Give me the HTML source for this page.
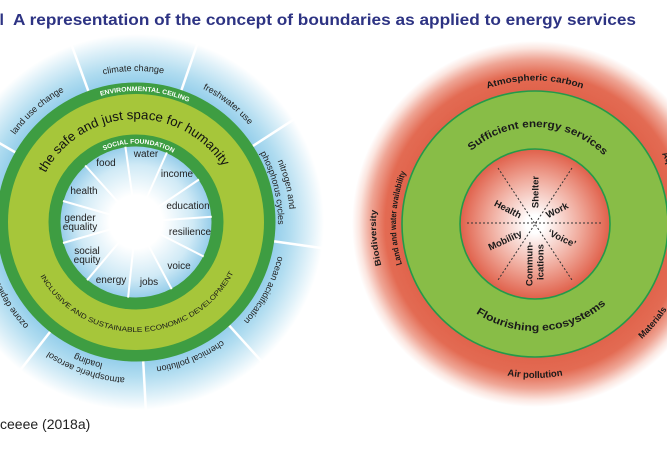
<!DOCTYPE html>
<html>
<head>
<meta charset="utf-8">
<style>
html,body{margin:0;padding:0;background:#fff;}
svg{display:block;}
text{font-family:"Liberation Sans",Arial,sans-serif;}
</style>
</head>
<body>
<svg xmlns="http://www.w3.org/2000/svg" xmlns:xlink="http://www.w3.org/1999/xlink" width="667" height="454" viewBox="0 0 667 454">
<defs>
  <radialGradient id="blueHalo" gradientUnits="userSpaceOnUse" cx="136" cy="222" r="188">
    <stop offset="0.73" stop-color="#92cdea"/>
    <stop offset="0.82" stop-color="#b0dcf0"/>
    <stop offset="0.92" stop-color="#dbeff8"/>
    <stop offset="1" stop-color="#ffffff"/>
  </radialGradient>
  <radialGradient id="blueInner" gradientUnits="userSpaceOnUse" cx="136" cy="222" r="76">
    <stop offset="0" stop-color="#ffffff"/>
    <stop offset="0.35" stop-color="#ffffff"/>
    <stop offset="0.75" stop-color="#d0eaf6"/>
    <stop offset="1" stop-color="#96cdea"/>
  </radialGradient>
  <radialGradient id="redHalo" gradientUnits="userSpaceOnUse" cx="535" cy="224" r="183">
    <stop offset="0.72" stop-color="#e0634b"/>
    <stop offset="0.82" stop-color="#e36b53"/>
    <stop offset="0.90" stop-color="#efa595"/>
    <stop offset="0.96" stop-color="#fbe5df"/>
    <stop offset="1" stop-color="#ffffff"/>
  </radialGradient>
  <radialGradient id="redInner" gradientUnits="userSpaceOnUse" cx="535" cy="224" r="75">
    <stop offset="0" stop-color="#ffffff"/>
    <stop offset="0.12" stop-color="#ffffff"/>
    <stop offset="0.6" stop-color="#f0ab9d"/>
    <stop offset="1" stop-color="#e0604a"/>
  </radialGradient>

  <path id="L151" d="M136,373 A151,151 0 1 1 136,71 A151,151 0 1 1 136,373"/>
  <path id="L149" d="M136,371 A149,149 0 1 1 136,73 A149,149 0 1 1 136,371"/>
  <path id="L154" d="M136,376 A154,154 0 1 1 136,68 A154,154 0 1 1 136,376"/>
  <path id="L142" d="M136,364 A142,142 0 1 1 136,80 A142,142 0 1 1 136,364"/>
  <path id="L146" d="M136,368 A146,146 0 1 1 136,76 A146,146 0 1 1 136,368"/>
  <path id="L156" d="M136,378 A156,156 0 1 1 136,66 A156,156 0 1 1 136,378"/>
  <path id="L145" d="M136,367 A145,145 0 1 1 136,77 A145,145 0 1 1 136,367"/>
  <path id="L103" d="M136,325 A103,103 0 1 1 136,119 A103,103 0 1 1 136,325"/>
  <path id="L131" d="M136,353 A131,131 0 1 1 136,91 A131,131 0 1 1 136,353"/>
  <path id="L78" d="M136,300.5 A78.5,78.5 0 1 1 136,143.5 A78.5,78.5 0 1 1 136,300.5"/>
  <path id="LC110" d="M136,112 A110,110 0 1 0 136,332 A110,110 0 1 0 136,112"/>

  <path id="R97" d="M535,321 A97,97 0 1 1 535,127 A97,97 0 1 1 535,321"/>
  <path id="R143" d="M535,367.5 A143.5,143.5 0 1 1 535,80.5 A143.5,143.5 0 1 1 535,367.5"/>
  <path id="R139" d="M535,363 A139,139 0 1 1 535,85 A139,139 0 1 1 535,363"/>
  <path id="R159" d="M535,383 A159,159 0 1 1 535,65 A159,159 0 1 1 535,383"/>
  <path id="R145" d="M535,369 A145,145 0 1 1 535,79 A145,145 0 1 1 535,369"/>
  <path id="RC107" d="M535,117 A107,107 0 1 0 535,331 A107,107 0 1 0 535,117"/>
  <path id="RC154" d="M535,70 A154,154 0 1 0 535,378 A154,154 0 1 0 535,70"/>
  <path id="RC157" d="M535,67 A157,157 0 1 0 535,381 A157,157 0 1 0 535,67"/>
</defs>

<rect x="0" y="0" width="667" height="454" fill="#ffffff"/>

<!-- LEFT DOUGHNUT -->
<circle cx="136" cy="222" r="188" fill="url(#blueHalo)"/>
<g stroke="#ffffff" stroke-width="2.5" stroke-linecap="butt">
  <line x1="15.6" y1="152.5" x2="-32.9" y2="124.5"/>
  <line x1="88.5" y1="91.4" x2="69.3" y2="38.8"/>
  <line x1="181.3" y1="90.5" x2="199.5" y2="37.6"/>
  <line x1="252.6" y1="146.2" x2="299.6" y2="115.7"/>
  <line x1="273.6" y1="241.3" x2="329.1" y2="249.1"/>
  <line x1="229.0" y1="325.3" x2="266.5" y2="366.9"/>
  <line x1="143.2" y1="360.9" x2="146.2" y2="416.8"/>
  <line x1="50.4" y1="331.5" x2="15.9" y2="375.7"/>
  <line x1="0.0" y1="250.9" x2="-54.7" y2="262.6"/>
</g>
<circle cx="136" cy="222" r="139.5" fill="#3e9d42"/>
<circle cx="136" cy="222" r="128" fill="#a6c63a"/>
<circle cx="136" cy="222" r="87.5" fill="#3e9d42"/>
<circle cx="136" cy="222" r="75.5" fill="url(#blueInner)"/>
<g stroke="#ffffff" stroke-width="2">
  <line x1="136" y1="222" x2="125.4" y2="146.7"/>
  <line x1="136" y1="222" x2="166.9" y2="152.5"/>
  <line x1="136" y1="222" x2="199.0" y2="179.5"/>
  <line x1="136" y1="222" x2="211.8" y2="216.7"/>
  <line x1="136" y1="222" x2="203.7" y2="256.5"/>
  <line x1="136" y1="222" x2="171.7" y2="289.1"/>
  <line x1="136" y1="222" x2="128.1" y2="297.6"/>
  <line x1="136" y1="222" x2="87.1" y2="280.2"/>
  <line x1="136" y1="222" x2="63.0" y2="243.0"/>
  <line x1="136" y1="222" x2="63.0" y2="201.0"/>
  <line x1="136" y1="222" x2="85.2" y2="165.5"/>
</g>

<g font-size="10" fill="#222" text-anchor="middle">
  <text x="146" y="157">water</text>
  <text x="106" y="166">food</text>
  <text x="177" y="177">income</text>
  <text x="84" y="194">health</text>
  <text x="188" y="209">education</text>
  <text x="80" y="221">gender</text>
  <text x="80" y="230">equality</text>
  <text x="190" y="235">resilience</text>
  <text x="87" y="254">social</text>
  <text x="87" y="263">equity</text>
  <text x="179" y="269">voice</text>
  <text x="111" y="283">energy</text>
  <text x="149" y="285">jobs</text>
</g>

<text font-size="6.5" font-weight="bold" fill="#ffffff" transform="rotate(4 136 222)"><textPath href="#L131" xlink:href="#L131" startOffset="50%" text-anchor="middle" textLength="90" lengthAdjust="spacingAndGlyphs">ENVIRONMENTAL CEILING</textPath></text>
<text font-size="6.5" font-weight="bold" fill="#ffffff" transform="rotate(2 136 222)"><textPath href="#L78" xlink:href="#L78" startOffset="50%" text-anchor="middle" textLength="72" lengthAdjust="spacingAndGlyphs">SOCIAL FOUNDATION</textPath></text>
<text font-size="13" fill="#111" transform="rotate(-2 136 222)"><textPath href="#L103" xlink:href="#L103" startOffset="50%" text-anchor="middle" textLength="214" lengthAdjust="spacingAndGlyphs">the safe and just space for humanity</textPath></text>
<text font-size="7" fill="#1a1a1a" transform="rotate(-1 136 222)"><textPath href="#LC110" xlink:href="#LC110" startOffset="50%" text-anchor="middle" textLength="236" lengthAdjust="spacingAndGlyphs">INCLUSIVE AND SUSTAINABLE ECONOMIC DEVELOPMENT</textPath></text>

<g font-size="9" fill="#222">
  <text transform="rotate(-1 136 222)"><textPath href="#L151" xlink:href="#L151" startOffset="50%" text-anchor="middle">climate change</textPath></text>
  <text transform="rotate(38 136 222)"><textPath href="#L149" xlink:href="#L149" startOffset="50%" text-anchor="middle">freshwater use</textPath></text>
  <text transform="rotate(-41.5 136 222)"><textPath href="#L149" xlink:href="#L149" startOffset="50%" text-anchor="middle">land use change</textPath></text>
  <text transform="rotate(76 136 222)"><textPath href="#L154" xlink:href="#L154" startOffset="50%" text-anchor="middle">nitrogen and</textPath></text>
  <text transform="rotate(76 136 222)"><textPath href="#L142" xlink:href="#L142" startOffset="50%" text-anchor="middle">phosphorus cycles</textPath></text>
  <text transform="rotate(118 136 222)"><textPath href="#L146" xlink:href="#L146" startOffset="50%" text-anchor="middle">ocean acidification</textPath></text>
  <text transform="rotate(158 136 222)"><textPath href="#L146" xlink:href="#L146" startOffset="50%" text-anchor="middle">chemical pollution</textPath></text>
  <text transform="rotate(199 136 222)"><textPath href="#L156" xlink:href="#L156" startOffset="50%" text-anchor="middle">atmospheric aerosol</textPath></text>
  <text transform="rotate(199 136 222)"><textPath href="#L145" xlink:href="#L145" startOffset="50%" text-anchor="middle">loading</textPath></text>
  <text transform="rotate(226 136 222)"><textPath href="#L149" xlink:href="#L149" startOffset="50%" text-anchor="start">ozone depletion</textPath></text>
</g>

<!-- RIGHT DOUGHNUT -->
<circle cx="535" cy="224" r="183" fill="url(#redHalo)"/>
<circle cx="535" cy="224" r="133" fill="#88bd47" stroke="#239a4a" stroke-width="1.6"/>
<circle cx="535" cy="224" r="75" fill="url(#redInner)" stroke="#239a4a" stroke-width="1.6"/>

<g stroke="#333" stroke-width="1" stroke-dasharray="2,2" fill="none">
  <line x1="467" y1="223" x2="603" y2="223"/>
  <line x1="498" y1="168" x2="572" y2="280"/>
  <line x1="572" y1="168" x2="498" y2="280"/>
</g>

<g font-size="9.5" font-weight="bold" fill="#1a1a1a" text-anchor="middle">
  <text transform="translate(535,192) rotate(-90)" x="0" y="3.4">Shelter</text>
  <text transform="translate(508,209) rotate(27)" x="0" y="3.4">Health</text>
  <text transform="translate(557,210) rotate(-27)" x="0" y="3.4">Work</text>
  <text transform="translate(505,240) rotate(-25)" x="0" y="3.4">Mobility</text>
  <text transform="translate(562,238) rotate(25)" x="0" y="3.4">‘Voice’</text>
  <text transform="translate(529,264) rotate(-90)" x="0" y="3.4">Commun-</text>
  <text transform="translate(540,262) rotate(-90)" x="0" y="3.4">ications</text>
</g>

<g font-weight="bold" fill="#1a1a1a">
  <text font-size="10.5" transform="rotate(2 535 224)"><textPath href="#R97" xlink:href="#R97" startOffset="50%" text-anchor="middle" textLength="146" lengthAdjust="spacingAndGlyphs">Sufficient energy services</textPath></text>
  <text font-size="10.5" transform="rotate(-4 535 224)"><textPath href="#RC107" xlink:href="#RC107" startOffset="50%" text-anchor="middle" textLength="140" lengthAdjust="spacingAndGlyphs">Flourishing ecosystems</textPath></text>
  <text font-size="9" transform="rotate(0 535 224)"><textPath href="#R143" xlink:href="#R143" startOffset="50%" text-anchor="middle" textLength="97" lengthAdjust="spacingAndGlyphs">Atmospheric carbon</textPath></text>
  <text font-size="9.5" transform="rotate(0 535 224)"><textPath href="#RC154" xlink:href="#RC154" startOffset="50%" text-anchor="middle">Air pollution</textPath></text>
  <text font-size="8.5" transform="rotate(-87.5 535 224)"><textPath href="#R139" xlink:href="#R139" startOffset="50%" text-anchor="middle" textLength="94" lengthAdjust="spacingAndGlyphs">Land and water availability</textPath></text>
  <text font-size="8.5" transform="rotate(-95 535 224)"><textPath href="#R159" xlink:href="#R159" startOffset="50%" text-anchor="middle" textLength="56" lengthAdjust="spacingAndGlyphs">Biodiversity</textPath></text>
  <text font-size="9" transform="rotate(-50 535 224)"><textPath href="#RC157" xlink:href="#RC157" startOffset="50%" text-anchor="middle">Materials</textPath></text>
  <text font-size="9" transform="rotate(61 535 224)"><textPath href="#R145" xlink:href="#R145" startOffset="50%" text-anchor="start">Aquatic systems</textPath></text>
</g>

<!-- TITLE & SOURCE -->
<text x="-0.5" y="25" font-size="16" font-weight="bold" fill="#2d3383">l</text>
<text x="13" y="25" font-size="16" font-weight="bold" fill="#2d3383" textLength="623" lengthAdjust="spacingAndGlyphs">A representation of the concept of boundaries as applied to energy services</text>
<text x="0" y="429" font-size="14" fill="#222">ceeee (2018a)</text>
</svg>
</body>
</html>
